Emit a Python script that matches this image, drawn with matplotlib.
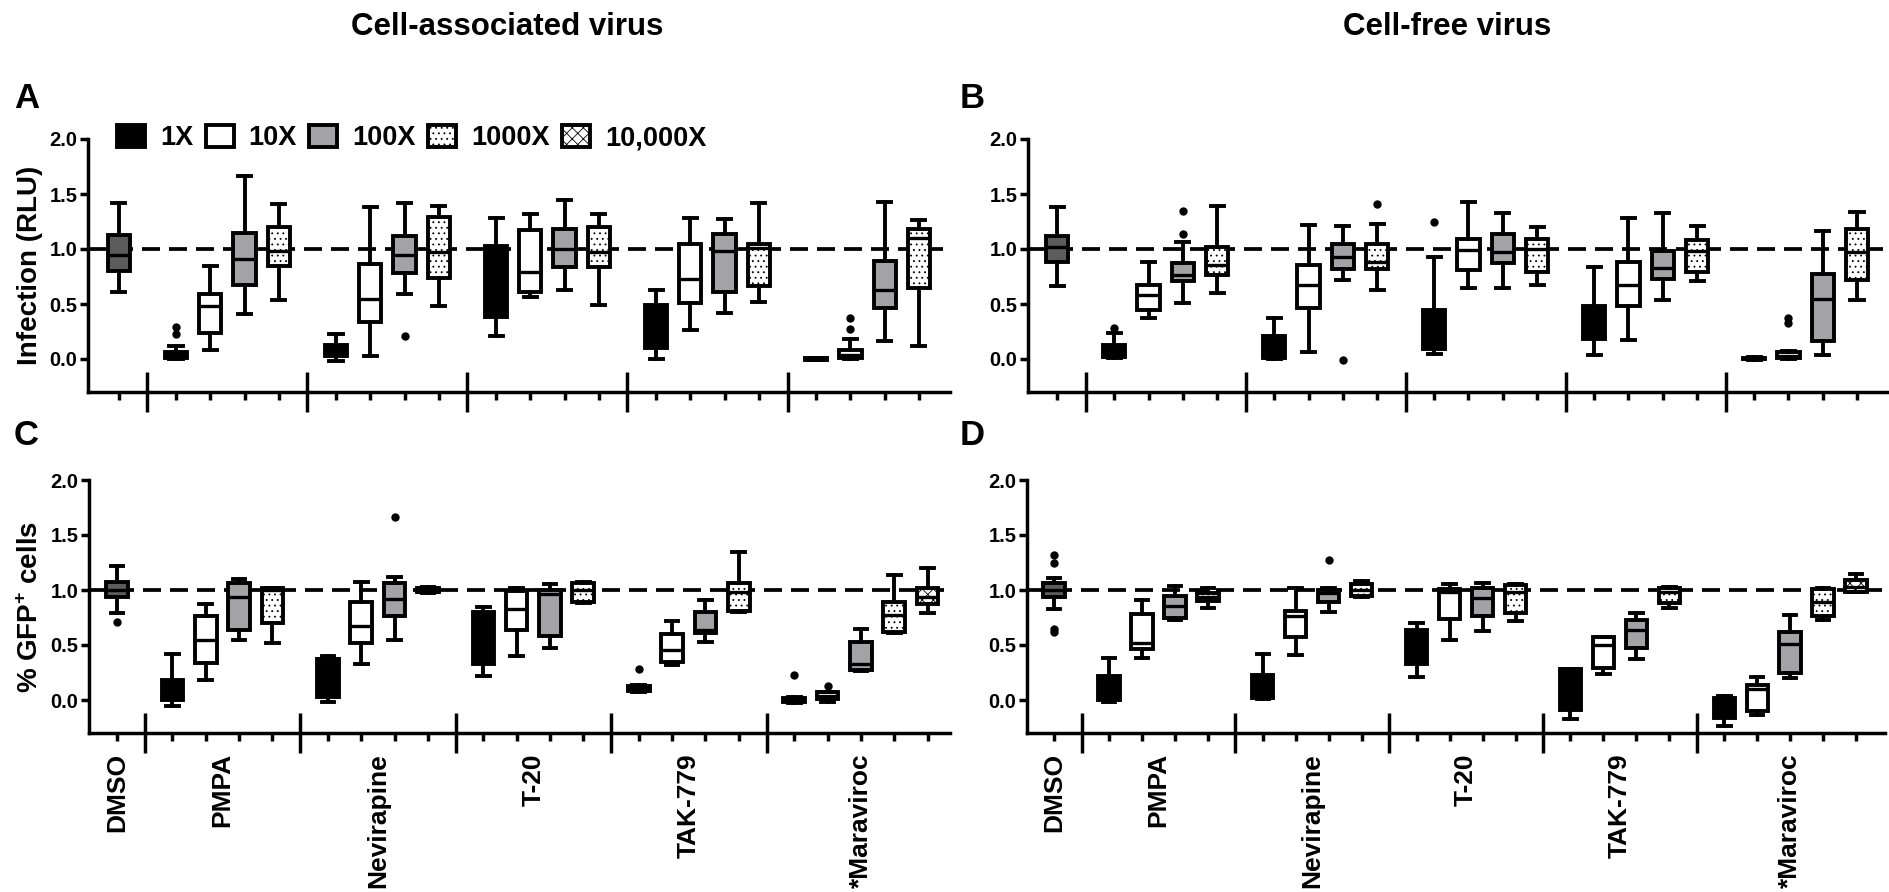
import numpy as np
import matplotlib
matplotlib.use('Agg')
import matplotlib.pyplot as plt
from matplotlib.patches import Patch
from matplotlib.ticker import FormatStrFormatter

plt.rcParams['font.family'] = ['Liberation Sans', 'DejaVu Sans']
plt.rcParams['font.weight'] = 'bold'
plt.rcParams['axes.labelweight'] = 'bold'
plt.rcParams['mathtext.fontset'] = 'custom'
plt.rcParams['mathtext.rm'] = 'Liberation Sans:bold'
plt.rcParams['mathtext.bf'] = 'Liberation Sans:bold'
plt.rcParams['hatch.linewidth'] = 0.6

# drugs and doses
drugs = ['DMSO', 'PMPA', 'Nevirapine', 'T-20', 'TAK-779', '*Maraviroc']
doses = ['1X', '10X', '100X', '1000X', '10,000X']

# boxes per drug (DMSO is one box), panels A/B have no 10,000X maraviroc
n_ab = [1, 4, 4, 4, 4, 4]
n_cd = [1, 4, 4, 4, 4, 5]

# (whisker low, q1, median, q3, whisker high)
# order: DMSO, PMPA 1X..1000X, Nevirapine, T-20, TAK-779, Maraviroc
A_stats = [(0.61, 0.80, 0.945, 1.13, 1.42),
           (0.00, 0.005, 0.03, 0.06, 0.12), (0.08, 0.24, 0.48, 0.59, 0.85),
           (0.41, 0.67, 0.91, 1.15, 1.66), (0.54, 0.85, 0.98, 1.20, 1.41),
           (-0.02, 0.03, 0.08, 0.13, 0.23), (0.03, 0.34, 0.55, 0.86, 1.385),
           (0.59, 0.78, 0.95, 1.12, 1.42), (0.48, 0.74, 0.97, 1.29, 1.39),
           (0.21, 0.38, 0.70, 1.03, 1.285), (0.56, 0.61, 0.79, 1.17, 1.32),
           (0.63, 0.84, 1.00, 1.18, 1.445), (0.49, 0.84, 0.97, 1.20, 1.32),
           (0.00, 0.10, 0.30, 0.49, 0.63), (0.26, 0.51, 0.73, 1.05, 1.285),
           (0.42, 0.61, 0.98, 1.14, 1.27), (0.515, 0.66, 1.01, 1.05, 1.42),
           (-0.01, -0.005, 0.0, 0.005, 0.01), (0.00, 0.005, 0.04, 0.08, 0.18),
           (0.16, 0.46, 0.63, 0.89, 1.43), (0.12, 0.65, 1.10, 1.18, 1.26)]
A_out = {1: [0.23, 0.29], 7: [0.21], 18: [0.27, 0.375]}

B_stats = [(0.66, 0.88, 1.02, 1.12, 1.385),
           (0.01, 0.02, 0.08, 0.13, 0.24), (0.37, 0.445, 0.58, 0.67, 0.88),
           (0.51, 0.71, 0.76, 0.87, 1.067), (0.60, 0.76, 0.855, 1.02, 1.39),
           (0.00, 0.005, 0.10, 0.21, 0.37), (0.06, 0.46, 0.67, 0.855, 1.22),
           (0.72, 0.815, 0.93, 1.05, 1.21), (0.63, 0.815, 0.88, 1.05, 1.23),
           (0.05, 0.09, 0.25, 0.45, 0.93), (0.65, 0.81, 0.99, 1.09, 1.43),
           (0.65, 0.875, 0.97, 1.14, 1.33), (0.67, 0.79, 1.00, 1.09, 1.20),
           (0.04, 0.18, 0.35, 0.48, 0.84), (0.17, 0.48, 0.67, 0.885, 1.28),
           (0.54, 0.73, 0.83, 0.98, 1.33), (0.71, 0.79, 0.98, 1.08, 1.21),
           (-0.005, 0.0, 0.005, 0.01, 0.02), (0.00, 0.005, 0.03, 0.065, 0.07),
           (0.035, 0.16, 0.545, 0.77, 1.16), (0.54, 0.72, 0.97, 1.18, 1.34)]
B_out = {1: [0.285], 3: [1.14, 1.345], 7: [-0.01], 8: [1.405], 9: [1.25],
         18: [0.33, 0.37]}

C_stats = [(0.79, 0.94, 1.00, 1.076, 1.22),
           (-0.05, 0.0, 0.09, 0.18, 0.42), (0.18, 0.34, 0.55, 0.76, 0.87),
           (0.55, 0.64, 0.94, 1.06, 1.10), (0.515, 0.70, 1.00, 1.015, 1.02),
           (-0.015, 0.03, 0.20, 0.37, 0.40), (0.325, 0.515, 0.675, 0.89, 1.075),
           (0.55, 0.76, 0.92, 1.065, 1.115), (0.97, 0.98, 1.00, 1.02, 1.03),
           (0.22, 0.33, 0.55, 0.80, 0.85), (0.40, 0.64, 0.83, 0.99, 1.015),
           (0.475, 0.58, 0.96, 1.00, 1.055), (0.885, 0.89, 1.00, 1.065, 1.075),
           (0.07, 0.085, 0.105, 0.13, 0.14), (0.32, 0.35, 0.455, 0.60, 0.72),
           (0.53, 0.61, 0.64, 0.80, 0.91), (0.80, 0.81, 0.985, 1.06, 1.35),
           (-0.03, -0.02, 0.0, 0.02, 0.03), (-0.015, 0.01, 0.04, 0.07, 0.07),
           (0.26, 0.27, 0.33, 0.53, 0.65), (0.61, 0.615, 0.77, 0.89, 1.14),
           (0.79, 0.87, 0.94, 1.015, 1.20)]
C_out = {0: [0.71], 7: [1.66], 13: [0.28], 17: [0.23], 18: [0.13]}

D_stats = [(0.825, 0.94, 1.00, 1.06, 1.105),
           (-0.015, 0.0, 0.10, 0.22, 0.38), (0.38, 0.46, 0.52, 0.78, 0.91),
           (0.73, 0.75, 0.855, 0.945, 1.04), (0.84, 0.90, 0.935, 0.975, 1.02),
           (0.01, 0.015, 0.10, 0.23, 0.42), (0.41, 0.575, 0.76, 0.81, 1.015),
           (0.80, 0.895, 0.97, 1.00, 1.02), (0.94, 0.945, 1.00, 1.055, 1.08),
           (0.205, 0.33, 0.50, 0.64, 0.70), (0.55, 0.74, 0.985, 1.005, 1.055),
           (0.63, 0.76, 0.925, 1.015, 1.06), (0.72, 0.79, 0.985, 1.045, 1.055),
           (-0.17, -0.09, 0.10, 0.28, 0.28), (0.235, 0.29, 0.50, 0.57, 0.575),
           (0.37, 0.47, 0.636, 0.727, 0.79), (0.84, 0.88, 0.985, 1.02, 1.03),
           (-0.24, -0.167, -0.05, 0.02, 0.036), (-0.136, -0.097, 0.097, 0.136, 0.21),
           (0.197, 0.25, 0.51, 0.615, 0.77), (0.73, 0.76, 0.89, 1.005, 1.015),
           (0.985, 0.985, 1.03, 1.09, 1.145)]
D_out = {0: [0.62, 0.65, 1.25, 1.32], 7: [1.27]}

# fill styles for the doses
dose_face = ['black', 'white', '#a3a3a6', 'white', 'white']
dose_hatch = [None, None, None, '...', 'xxx']
dmso_face = '#5c5c5c'
LW = 2.8
AXLW = 2.5

fig = plt.figure(figsize=(18.9, 8.92), dpi=100)
W, H = 1890, 892


def layout(counts):
    pos, kinds, seps, centers = [0.0], [-1], [], [0.0]
    x = 0.0
    for n in counts[1:]:
        seps.append(x + 0.833)
        start = x + 1.665
        xs = [start + i for i in range(n)]
        pos += xs
        kinds += list(range(n))
        centers.append(np.mean(xs))
        x = xs[-1]
    return pos, kinds, seps, centers


def panel(rect_px, xlim, counts, stats, outs, ylabel, labels):
    l, r, t, b = rect_px
    ax = fig.add_axes([l / W, 1 - b / H, (r - l) / W, (b - t) / H])
    pos, kinds, seps, centers = layout(counts)
    bstats = []
    for i, (lo, q1, med, q3, hi) in enumerate(stats):
        bstats.append(dict(whislo=lo, q1=q1, med=med, q3=q3, whishi=hi,
                           fliers=outs.get(i, [])))
    ax.axhline(1.0, color='black', lw=2.7, linestyle=(0, (4.8, 2.4)), zorder=1)
    res = ax.bxp(bstats, positions=pos, widths=0.65, capwidths=0.38,
                 patch_artist=True, showfliers=True,
                 boxprops=dict(linewidth=LW, edgecolor='black'),
                 whiskerprops=dict(linewidth=LW, color='black'),
                 capprops=dict(linewidth=LW, color='black'),
                 medianprops=dict(linewidth=2.4, color='black'),
                 flierprops=dict(marker='o', markersize=5, markerfacecolor='black',
                                 markeredgecolor='black'))
    for box, k in zip(res['boxes'], kinds):
        if k < 0:
            box.set_facecolor(dmso_face)
        else:
            box.set_facecolor(dose_face[k])
            if dose_hatch[k]:
                box.set_hatch(dose_hatch[k])
        box.set_zorder(2)
    ax.set_xlim(*xlim)
    ax.set_ylim(-0.3, 2.0)
    for s in ['top', 'right']:
        ax.spines[s].set_visible(False)
    for s in ['left', 'bottom']:
        ax.spines[s].set_linewidth(AXLW)
    ax.set_yticks([0, 0.5, 1.0, 1.5, 2.0])
    ax.yaxis.set_major_formatter(FormatStrFormatter('%.1f'))
    ax.set_xticks(pos)
    ax.set_xticklabels([])
    ax.tick_params(axis='both', width=AXLW, length=5.5, direction='out')
    ax.tick_params(axis='y', labelsize=14.5, pad=2)
    for lbl in ax.get_yticklabels():
        lbl.set_fontweight('bold')
    for s in seps:
        ax.plot([s, s], [-0.08, 0.08], transform=ax.get_xaxis_transform(),
                color='black', lw=AXLW, clip_on=False, solid_capstyle='butt')
    if ylabel:
        ax.set_ylabel(ylabel, fontsize=20, fontweight='bold', labelpad=5)
    if labels:
        for c, name in zip(centers, drugs):
            ax.text(c, -0.08, name, transform=ax.get_xaxis_transform(),
                    rotation=90, ha='center', va='top', fontsize=19,
                    fontweight='bold')
    return ax


axA = panel((88, 950, 139, 392), (-0.9, 24.23), n_ab, A_stats, A_out,
            'Infection (RLU)', False)
axB = panel((1028, 1887, 139, 392), (-0.85, 24.2), n_ab, B_stats, B_out, None, False)
axC = panel((89, 950, 480, 733), (-0.84, 25.0), n_cd, C_stats, C_out,
            '% GFP$^{+}$ cells', True)
axD = panel((1027, 1885, 480, 733), (-0.82, 25.2), n_cd, D_stats, D_out, None, True)

# legend
handles = [Patch(facecolor=f, edgecolor='black', linewidth=LW, hatch=h)
           for f, h in zip(dose_face, dose_hatch)]
fig.legend(handles, doses, loc='center left', bbox_to_anchor=(117 / W, 1 - 138 / H),
           ncol=5, frameon=False, prop=dict(size=19.5, weight='bold'),
           handlelength=1.04, handleheight=0.85, handletextpad=0.55,
           columnspacing=0.45, borderpad=0, borderaxespad=0)

# titles and panel letters
fig.text(507 / W, 1 - 35 / H, 'Cell-associated virus', ha='center',
         va='baseline', fontsize=22.5, fontweight='bold')
fig.text(1447 / W, 1 - 35 / H, 'Cell-free virus', ha='center',
         va='baseline', fontsize=22.5, fontweight='bold')
for letter, x, y in [('A', 14, 108), ('B', 960, 108), ('C', 14, 445), ('D', 960, 445)]:
    fig.text(x / W, 1 - y / H, letter, ha='left', va='baseline', fontsize=25,
             fontweight='bold')

fig.savefig('out.png', dpi=100)
